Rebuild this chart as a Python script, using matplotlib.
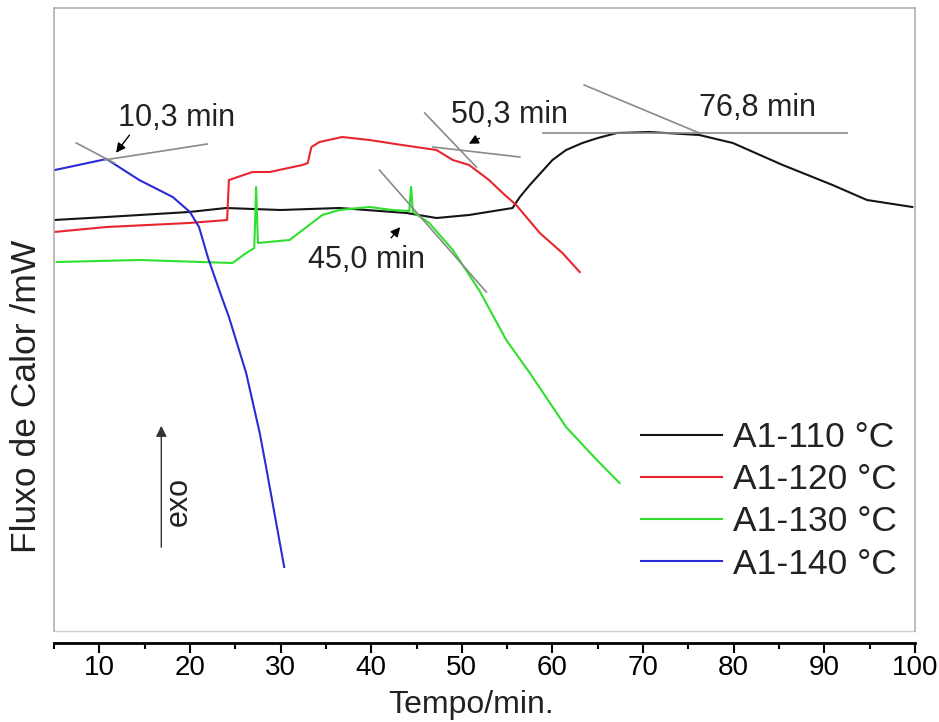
import matplotlib
matplotlib.use("Agg")
import matplotlib.pyplot as plt
from matplotlib.ticker import MultipleLocator

plt.rcParams['font.family'] = ['Liberation Sans', 'DejaVu Sans']
NARROW = ['Liberation Sans Narrow', 'Liberation Sans', 'DejaVu Sans']

# heat flow curves (arbitrary mW offset units), time in min
t_110 = [5.0, 10.8, 19.9, 24.0, 30.0, 36.5, 43.9, 47.2, 50.8, 55.6, 56.4, 57.5,
         58.8, 60.0, 61.5, 63.3, 65.0, 67.1, 70.7, 76.2, 79.9, 85.4, 90.9, 94.7, 99.7]
f_110 = [40.8, 41.1, 41.6, 42.0, 41.8, 42.0, 41.5, 41.0, 41.3, 42.0, 43.1, 44.3,
         45.6, 46.8, 47.8, 48.5, 49.0, 49.5, 49.6, 49.3, 48.5, 46.3, 44.3, 42.8, 42.1]

t_120 = [5.0, 10.8, 19.9, 24.1, 24.3, 26.9, 28.8, 32.4, 33.0, 33.4, 34.3, 36.8,
         39.8, 43.4, 47.2, 49.0, 50.8, 53.0, 54.5, 56.0, 58.6, 61.1, 63.0]
f_120 = [39.6, 40.1, 40.5, 40.8, 44.8, 45.6, 45.6, 46.3, 46.5, 48.1, 48.6, 49.1,
         48.8, 48.3, 47.8, 46.8, 46.3, 44.8, 43.5, 42.3, 39.5, 37.5, 35.6]

t_130 = [5.3, 14.4, 24.7, 26.2, 27.1, 27.3, 27.5, 31.0, 34.6, 36.5, 39.8, 42.3,
         44.2, 44.4, 44.6, 46.4, 49.0, 51.9, 54.9, 57.5, 61.5, 64.9, 67.4]
f_130 = [36.6, 36.8, 36.5, 37.5, 38.0, 44.1, 38.5, 38.8, 41.3, 41.8, 42.1, 41.8,
         41.7, 44.1, 41.6, 40.5, 37.8, 33.8, 28.8, 25.5, 20.1, 16.8, 14.5]

t_140 = [5.1, 10.8, 14.4, 18.1, 20.0, 21.0, 22.0, 23.5, 24.3, 26.2, 27.7, 28.4, 30.4]
f_140 = [45.8, 46.9, 44.8, 43.1, 41.6, 40.1, 37.0, 33.1, 31.1, 25.5, 19.5, 16.1, 6.1]

labels = ['A1-110 °C', 'A1-120 °C', 'A1-130 °C', 'A1-140 °C']
colors = ['#151515', '#e8262e', '#2fe02f', '#2b2bd6']

# tangent constructions: (x0, x1), (y0, y1)
tangents = [
    ((7.46, 11.66), (48.5, 46.5)),
    ((10.55, 21.92), (46.8, 48.4)),
    ((45.9, 51.6), (51.5, 46.1)),
    ((46.8, 56.4), (48.1, 47.1)),
    ((40.9, 52.7), (45.8, 33.6)),
    ((63.5, 76.2), (54.3, 49.5)),
    ((58.9, 92.5), (49.5, 49.5)),
]
# onset annotations: text, text pos, arrow tip, arrow tail
onsets = [
    ('10,3 min', (18.5, 51.0), (11.66, 47.3), (13.5, 49.5)),
    ('50,3 min', (55.3, 51.3), (50.5, 48.3), (52.2, 49.1)),
    ('45,0 min', (39.5, 36.8), (43.4, 40.3), (42.0, 38.8)),
    ('76,8 min', (82.6, 52.0), None, None),
]

fig = plt.figure(figsize=(9.39, 7.22), dpi=100)
ax = fig.add_axes([54 / 939, (722 - 631) / 722, (915 - 54) / 939, (631 - 8) / 722])

for t, f, lab, c in zip([t_110, t_120, t_130, t_140], [f_110, f_120, f_130, f_140], labels, colors):
    ax.plot(t, f, color=c, lw=1.5, label=lab)

for xs, ys in tangents:
    ax.plot(xs, ys, color='#8a8a8a', lw=1.2, zorder=3)

for txt, pos, tip, tail in onsets:
    ax.text(pos[0], pos[1], txt, fontsize=22, ha='center', va='center', color='#222222')
    if tip is not None:
        ax.annotate('', xy=tip, xytext=tail,
                    arrowprops=dict(arrowstyle='-|>', color='black', lw=1.0, mutation_scale=14))

# exo arrow
ax.annotate('', xy=(16.84, 20.5), xytext=(16.84, 7.8),
            arrowprops=dict(arrowstyle='-|>', color='#333333', lw=1.0, mutation_scale=16))
ax.text(18.8, 12.6, 'exo', rotation=90, fontsize=22, ha='center', va='center', color='#222222')

ax.set_xlim(5, 100)
ax.set_ylim(-0.3, 62.0)
ax.set_yticks([])
ax.xaxis.set_major_locator(MultipleLocator(10))
ax.xaxis.set_minor_locator(MultipleLocator(10, offset=5))
ax.tick_params(axis='x', which='major', direction='out', length=7, width=1.5, pad=2, labelsize=20)
ax.tick_params(axis='x', which='minor', direction='out', length=4, width=1.5)
for lbl in ax.get_xticklabels():
    lbl.set_family(NARROW)

for side in ['top', 'left', 'right']:
    ax.spines[side].set_color('#b0b0b0')
    ax.spines[side].set_linewidth(1.2)
ax.spines['bottom'].set_position(('outward', 8.5))
ax.spines['bottom'].set_linewidth(2.0)
ax.axhline(ax.get_ylim()[0], color='#d0d0d0', lw=1.0, clip_on=False)

fig.text(27 / 939, 1 - 396 / 722, 'Fluxo de Calor /mW', rotation=90, fontsize=25.5,
         ha='center', va='center', color='#222222')
fig.text(471 / 939, 1 - 705 / 722, 'Tempo/min.', fontsize=23, ha='center', va='center',
         family=NARROW, color='#222222')

leg = ax.legend(loc='upper left', bbox_to_anchor=(641 / 939, 1 - 421 / 722),
                bbox_transform=fig.transFigure, frameon=False, fontsize=25.5,
                handlelength=2.3, handletextpad=0.3, labelspacing=0.26,
                borderpad=0, borderaxespad=0)
for txt in leg.get_texts():
    txt.set_color('#222222')

fig.savefig('out.png', dpi=100)
